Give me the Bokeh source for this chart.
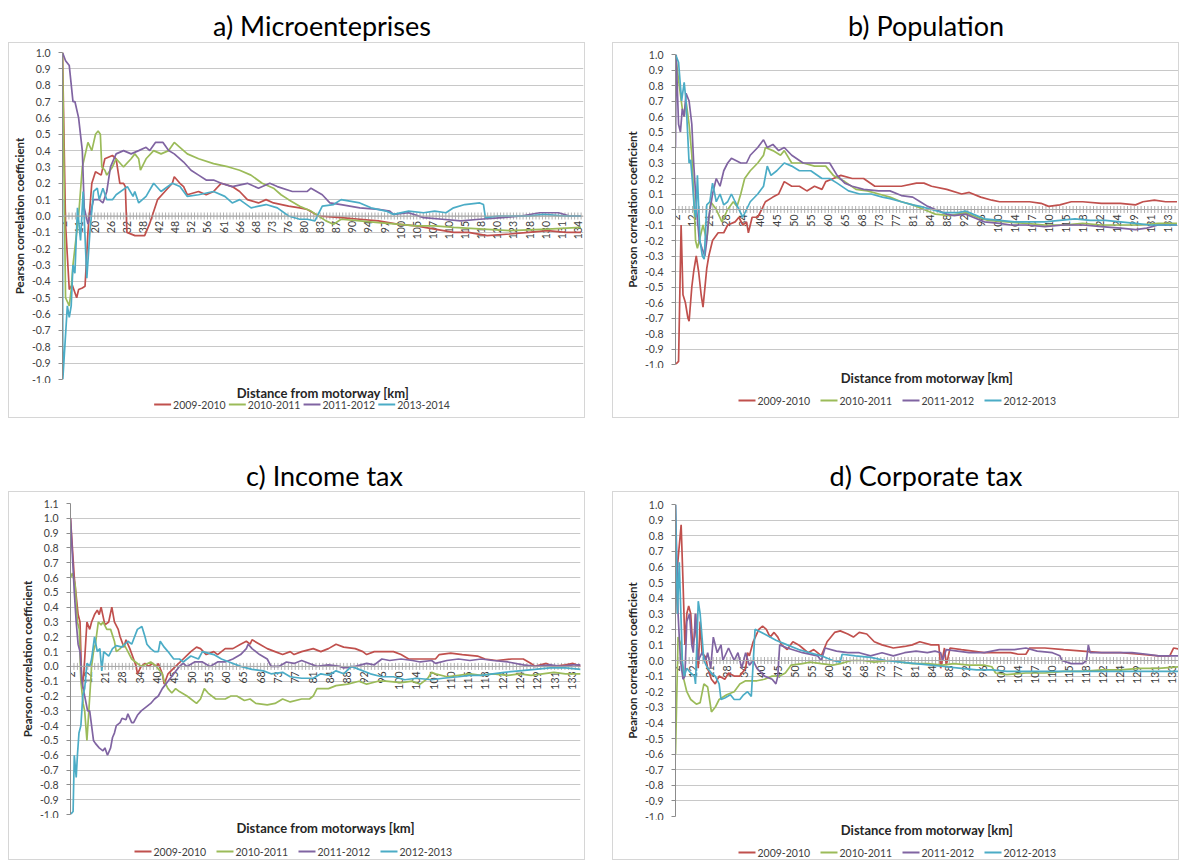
import numpy as np
from bokeh.plotting import figure
from bokeh.layouts import column, row, Spacer
from bokeh.models import FixedTicker, Range1d, PrintfTickFormatter, Span
from bokeh.core.properties import value
from bokeh.embed import file_html
from bokeh.resources import INLINE

COLORS = ["#C0504D", "#9BBB59", "#8064A2", "#4BACC6"]
FONT = "Lato"
BORDER = "1px solid #d6d6d6"

# ---------------- tick labels (distance categories, km) ----------------
a_labels = ["2", "11", "20", "26", "32", "38", "42", "48", "52", "56", "61", "66", "68",
            "73", "76", "80", "83", "87", "90", "94", "97", "100", "105", "107", "110",
            "115", "118", "120", "123", "128", "130", "131", "134"]
bcd_labels = ["2", "12", "21", "28", "34", "40", "45", "50", "55", "60", "65", "68", "73",
              "77", "81", "84", "88", "92", "96", "100", "104", "107", "110", "115", "118",
              "122", "124", "129", "131", "133"]

# ---------------- a) Microenteprises (position in label steps, r) ----------------
a_names = ["2009-2010", "2010-2011", "2011-2012", "2013-2014"]
a_0910 = [(0, 1.0), (0.19, -0.05), (0.42, -0.45), (0.6, -0.42), (0.88, -0.5), (1.0, -0.45),
          (1.23, -0.44), (1.4, -0.43), (1.58, -0.1), (1.82, 0.2), (2.05, 0.27), (2.4, 0.25),
          (2.63, 0.35), (3.1, 0.37), (3.33, 0.35), (3.56, 0.2), (3.79, 0.2), (3.9, 0.18),
          (4.0, -0.1), (4.5, -0.12), (5.1, -0.12), (5.4, -0.05), (5.9, 0.1), (6.36, 0.15),
          (6.82, 0.2), (6.94, 0.24), (7.29, 0.2), (7.52, 0.18), (7.75, 0.13), (8.45, 0.15),
          (8.92, 0.13), (9.38, 0.15), (9.85, 0.2), (10.54, 0.18), (11.0, 0.15), (11.48, 0.1),
          (12.17, 0.08), (12.64, 0.1), (13.1, 0.08), (14.04, 0.06), (14.73, 0.05), (15.2, 0.04),
          (15.9, 0.0), (17.3, -0.01), (18.46, -0.02), (19.62, -0.03), (20.79, -0.05),
          (21.95, -0.06), (23.11, -0.08), (24.28, -0.1), (25.2, -0.1), (26.37, -0.12),
          (27.77, -0.11), (28.93, -0.1), (30.1, -0.09), (31.26, -0.1), (32.19, -0.1)]
a_1011 = [(0, 1.0), (0.19, -0.5), (0.42, -0.55), (0.54, -0.45), (0.65, -0.3), (0.88, -0.1),
          (1.0, 0.0), (1.23, 0.3), (1.58, 0.45), (1.82, 0.4), (2.05, 0.5), (2.21, 0.52),
          (2.35, 0.5), (2.44, 0.3), (2.63, 0.28), (2.75, 0.25), (3.1, 0.3), (3.33, 0.35),
          (3.79, 0.3), (4.26, 0.35), (4.49, 0.38), (4.73, 0.35), (4.84, 0.28), (5.19, 0.35),
          (5.66, 0.4), (6.12, 0.38), (6.59, 0.4), (6.94, 0.45), (7.29, 0.42), (7.75, 0.38),
          (8.45, 0.35), (9.38, 0.32), (10.31, 0.3), (11.0, 0.28), (11.7, 0.25), (12.4, 0.2),
          (13.1, 0.17), (13.57, 0.13), (14.04, 0.1), (14.73, 0.06), (15.43, 0.03), (15.9, 0.0),
          (16.36, -0.03), (16.83, -0.05), (17.3, -0.02), (18.46, -0.03), (19.62, -0.04),
          (20.79, -0.05), (21.95, -0.06), (23.11, -0.06), (24.28, -0.07), (26.14, -0.08),
          (27.77, -0.09), (30.1, -0.08), (32.19, -0.07)]
a_1112 = [(0, 1.0), (0.19, 0.95), (0.42, 0.92), (0.65, 0.7), (0.77, 0.7), (1.0, 0.6),
          (1.23, 0.4), (1.35, 0.05), (1.58, -0.05), (1.93, 0.1), (2.28, 0.1), (2.51, 0.08),
          (2.75, 0.15), (2.98, 0.3), (3.33, 0.38), (3.79, 0.4), (4.26, 0.38), (4.73, 0.4),
          (5.19, 0.42), (5.42, 0.4), (5.77, 0.45), (6.24, 0.45), (6.59, 0.4), (6.94, 0.38),
          (7.52, 0.33), (7.98, 0.28), (8.45, 0.25), (8.92, 0.22), (9.38, 0.22), (9.85, 0.2),
          (10.54, 0.18), (11.48, 0.2), (12.17, 0.17), (12.87, 0.2), (13.34, 0.18),
          (14.27, 0.15), (15.2, 0.15), (15.43, 0.17), (16.13, 0.13), (16.6, 0.08),
          (17.3, 0.07), (18.46, 0.05), (19.62, 0.04), (20.32, 0.03), (20.55, 0.01),
          (21.49, 0.02), (22.42, -0.01), (23.58, -0.02), (24.74, -0.03), (25.91, -0.02),
          (27.3, -0.01), (28.47, 0.0), (29.63, 0.02), (30.8, 0.02), (31.49, 0.0), (32.19, 0.0)]
a_1314 = [(0, 0.1), (0.02, -1.0), (0.3, -0.55), (0.42, -0.62), (0.54, -0.55), (0.65, -0.3),
          (0.77, -0.35), (0.93, 0.05), (1.12, -0.15), (1.28, 0.15), (1.51, -0.38), (1.7, -0.1),
          (1.93, 0.15), (2.16, 0.17), (2.28, 0.1), (2.51, 0.17), (2.75, 0.1), (3.1, 0.1),
          (3.33, 0.13), (4.03, 0.18), (4.38, 0.12), (4.49, 0.15), (4.73, 0.08), (5.19, 0.12),
          (5.66, 0.2), (6.12, 0.15), (6.82, 0.2), (7.29, 0.18), (7.75, 0.12), (8.45, 0.13),
          (9.38, 0.15), (10.08, 0.12), (10.54, 0.08), (11.0, 0.1), (11.71, 0.05), (12.64, 0.07),
          (13.34, 0.05), (14.04, 0.0), (14.73, -0.02), (15.2, -0.02), (15.67, -0.03),
          (16.13, 0.06), (16.83, 0.07), (17.3, 0.1), (18.46, 0.08), (19.16, 0.05),
          (20.09, 0.03), (20.55, 0.01), (21.49, 0.03), (22.42, 0.02), (23.11, 0.03),
          (23.81, 0.02), (24.28, 0.05), (24.98, 0.07), (25.91, 0.08), (26.14, 0.07),
          (26.26, -0.01), (27.07, 0.0), (28.93, 0.0), (29.87, 0.01), (31.26, 0.0), (32.19, 0.0)]

# ---------------- b) Population ----------------
b_names = ["2009-2010", "2010-2011", "2011-2012", "2012-2013"]
b_0910 = [(0, -1.0), (0.18, -0.98), (0.33, -0.1), (0.44, -0.55), (0.58, -0.6), (0.73, -0.7),
          (0.8, -0.72), (0.96, -0.5), (1.07, -0.4), (1.22, -0.3), (1.36, -0.4), (1.51, -0.55),
          (1.62, -0.63), (1.84, -0.38), (1.96, -0.3), (2.18, -0.2), (2.51, -0.15), (2.84, -0.15),
          (3.07, -0.1), (3.51, -0.08), (3.73, -0.05), (3.96, -0.1), (4.18, -0.08), (4.29, -0.15),
          (4.51, -0.05), (4.84, -0.05), (5.07, 0.0), (5.29, 0.05), (5.73, 0.08), (6.07, 0.1),
          (6.4, 0.18), (6.84, 0.15), (7.29, 0.15), (7.73, 0.12), (8.18, 0.15), (8.62, 0.13),
          (8.84, 0.18), (9.29, 0.2), (9.73, 0.22), (10.4, 0.2), (11.07, 0.2), (11.73, 0.15),
          (12.62, 0.15), (13.29, 0.15), (14.18, 0.17), (14.62, 0.17), (15.07, 0.15),
          (15.96, 0.13), (16.84, 0.1), (17.29, 0.11), (17.96, 0.08), (18.62, 0.06),
          (19.07, 0.05), (19.96, 0.05), (20.84, 0.05), (21.51, 0.04), (21.96, 0.02),
          (22.62, 0.03), (23.29, 0.05), (23.96, 0.05), (25.07, 0.04), (26.18, 0.04),
          (27.07, 0.03), (27.51, 0.05), (28.18, 0.06), (28.84, 0.05), (29.51, 0.05)]
b_1011 = [(0, 1.0), (0.22, 0.8), (0.4, 0.65), (0.51, 0.6), (0.62, 0.7), (0.8, 0.55),
          (0.96, 0.35), (1.07, 0.1), (1.18, -0.2), (1.29, -0.25), (1.51, -0.15), (1.62, -0.1),
          (1.84, -0.2), (2.07, 0.05), (2.4, 0.0), (2.73, -0.08), (3.07, 0.0), (3.4, 0.05),
          (3.62, 0.02), (3.84, 0.1), (4.07, 0.2), (4.4, 0.25), (4.84, 0.3), (5.18, 0.35),
          (5.29, 0.4), (5.73, 0.38), (6.18, 0.35), (6.4, 0.38), (6.84, 0.3), (7.51, 0.3),
          (8.18, 0.28), (8.84, 0.28), (9.29, 0.22), (9.96, 0.18), (10.62, 0.13), (11.29, 0.12),
          (11.96, 0.1), (12.62, 0.08), (13.29, 0.05), (13.96, 0.03), (14.62, 0.0),
          (15.29, -0.03), (16.18, -0.04), (17.07, -0.02), (17.73, -0.05), (18.4, -0.07),
          (19.51, -0.08), (20.62, -0.09), (21.73, -0.1), (22.84, -0.1), (23.96, -0.09),
          (25.07, -0.1), (26.18, -0.1), (27.29, -0.1), (28.4, -0.09), (29.51, -0.09)]
b_1112 = [(0, 0.4), (0.04, 1.0), (0.18, 0.55), (0.29, 0.5), (0.4, 0.65), (0.51, 0.6),
          (0.62, 0.75), (0.8, 0.7), (0.96, 0.55), (1.07, 0.3), (1.24, 0.0), (1.4, -0.2),
          (1.56, -0.25), (1.73, -0.3), (1.84, -0.2), (1.96, -0.05), (2.18, 0.1), (2.4, 0.2),
          (2.62, 0.15), (2.84, 0.25), (3.07, 0.3), (3.29, 0.33), (3.84, 0.3), (4.18, 0.3),
          (4.4, 0.35), (4.84, 0.4), (5.18, 0.45), (5.4, 0.4), (5.73, 0.42), (6.07, 0.38),
          (6.4, 0.4), (6.84, 0.35), (7.51, 0.3), (8.4, 0.3), (9.07, 0.3), (9.51, 0.22),
          (9.96, 0.17), (10.4, 0.15), (11.07, 0.13), (11.96, 0.12), (12.62, 0.12),
          (13.29, 0.09), (13.96, 0.08), (14.4, 0.05), (14.84, 0.02), (15.29, 0.0),
          (15.96, -0.03), (16.4, -0.04), (17.07, -0.03), (17.51, -0.05), (18.18, -0.08),
          (19.07, -0.09), (19.73, -0.1), (20.62, -0.1), (21.73, -0.11), (22.84, -0.1),
          (23.96, -0.1), (25.07, -0.11), (26.18, -0.12), (27.07, -0.13), (27.73, -0.12),
          (28.4, -0.1), (29.51, -0.1)]
b_1213 = [(0, 1.0), (0.18, 0.95), (0.36, 0.7), (0.51, 0.82), (0.62, 0.7), (0.8, 0.3),
          (0.89, 0.32), (0.98, 0.2), (1.11, 0.0), (1.2, -0.05), (1.29, 0.22), (1.44, -0.2),
          (1.58, -0.3), (1.69, -0.32), (1.84, 0.03), (2.02, 0.05), (2.18, 0.17), (2.4, 0.05),
          (2.62, 0.1), (2.84, 0.03), (3.07, 0.05), (3.29, 0.1), (3.51, 0.05), (3.96, -0.05),
          (4.18, 0.0), (4.4, 0.05), (4.84, 0.1), (5.18, 0.15), (5.4, 0.28), (5.62, 0.22),
          (5.96, 0.25), (6.4, 0.3), (6.84, 0.28), (7.29, 0.25), (7.96, 0.25), (8.62, 0.2),
          (9.07, 0.2), (9.51, 0.17), (10.18, 0.12), (10.84, 0.1), (11.51, 0.1), (12.18, 0.08),
          (12.62, 0.07), (13.29, 0.05), (13.96, 0.03), (14.4, 0.02), (15.07, 0.0),
          (15.73, -0.02), (16.62, -0.02), (17.07, -0.01), (17.51, -0.03), (18.18, -0.06),
          (19.07, -0.07), (19.96, -0.08), (20.84, -0.08), (21.73, -0.08), (22.62, -0.07),
          (23.51, -0.06), (24.4, -0.07), (25.29, -0.07), (26.18, -0.08), (27.07, -0.09),
          (27.96, -0.1), (29.51, -0.1)]

# ---------------- c) Income tax ----------------
c_names = ["2009-2010", "2010-2011", "2011-2012", "2012-2013"]
c_0910 = [(0, 1.0), (0.22, 0.6), (0.44, 0.35), (0.55, 0.3), (0.66, -0.15), (0.77, -0.05),
          (0.95, 0.3), (1.11, 0.25), (1.22, 0.3), (1.39, 0.35), (1.55, 0.38), (1.66, 0.35),
          (1.77, 0.4), (1.99, 0.28), (2.21, 0.3), (2.39, 0.4), (2.54, 0.3), (2.76, 0.25),
          (2.87, 0.2), (3.09, 0.13), (3.21, 0.18), (3.43, 0.12), (3.65, 0.05), (3.8, 0.0),
          (3.87, -0.05), (4.09, 0.0), (4.31, 0.02), (4.53, 0.0), (4.75, 0.02), (4.97, 0.0),
          (5.08, 0.02), (5.31, -0.05), (5.42, -0.12), (5.64, -0.05), (6.08, 0.0), (6.52, 0.05),
          (6.96, 0.1), (7.29, 0.13), (7.52, 0.12), (7.85, 0.08), (8.29, 0.1), (8.51, 0.08),
          (8.95, 0.12), (9.39, 0.12), (9.84, 0.15), (10.17, 0.17), (10.39, 0.15), (10.5, 0.18),
          (10.94, 0.15), (11.38, 0.12), (11.83, 0.1), (12.27, 0.08), (12.71, 0.1), (12.93, 0.08),
          (13.37, 0.1), (14.04, 0.12), (14.48, 0.1), (14.92, 0.12), (15.36, 0.15), (15.8, 0.13),
          (16.47, 0.12), (16.91, 0.1), (17.13, 0.08), (17.57, 0.1), (18.01, 0.1), (18.68, 0.1),
          (19.12, 0.08), (19.56, 0.05), (20.23, 0.05), (21.11, 0.05), (21.33, 0.08),
          (21.99, 0.09), (22.66, 0.08), (23.54, 0.07), (23.98, 0.05), (24.65, 0.04),
          (25.53, 0.05), (26.19, 0.05), (26.64, 0.02), (26.86, 0.0), (27.52, 0.02),
          (27.96, 0.0), (28.63, 0.01), (29.07, 0.02), (29.51, 0.0)]
c_1011 = [(0, 0.6), (0.11, 0.63), (0.27, 0.55), (0.4, 0.3), (0.51, 0.25), (0.6, -0.1),
          (0.73, -0.25), (0.82, -0.3), (0.95, -0.5), (1.06, -0.3), (1.22, 0.0), (1.33, 0.1),
          (1.44, 0.15), (1.61, 0.3), (1.77, 0.28), (1.88, 0.3), (2.1, 0.25), (2.32, 0.25),
          (2.54, 0.17), (2.65, 0.1), (2.87, 0.12), (3.09, 0.15), (3.32, 0.1), (3.54, 0.05),
          (3.76, 0.03), (4.09, 0.0), (4.64, 0.03), (4.97, 0.0), (5.31, -0.05), (5.42, -0.1),
          (5.64, -0.15), (5.86, -0.18), (6.08, -0.15), (6.3, -0.17), (6.74, -0.2), (7.29, -0.25),
          (7.52, -0.22), (7.74, -0.15), (7.96, -0.18), (8.4, -0.22), (8.95, -0.22), (9.28, -0.2),
          (9.62, -0.2), (10.06, -0.23), (10.39, -0.22), (10.72, -0.25), (11.38, -0.26),
          (11.83, -0.25), (12.27, -0.22), (12.71, -0.24), (13.37, -0.22), (13.82, -0.22),
          (14.04, -0.2), (14.26, -0.15), (14.92, -0.15), (15.36, -0.13), (16.03, -0.12),
          (16.69, -0.1), (17.13, -0.12), (17.79, -0.1), (18.24, -0.1), (19.12, -0.11),
          (19.78, -0.1), (20.23, -0.12), (20.67, -0.08), (20.89, -0.04), (21.11, -0.05),
          (21.77, -0.07), (22.44, -0.06), (23.1, -0.05), (23.76, -0.06), (24.43, -0.05),
          (25.31, -0.06), (25.97, -0.05), (26.64, -0.06), (27.3, -0.05), (27.96, -0.04),
          (28.63, -0.05), (29.51, -0.05)]
c_1112 = [(0, 1.0), (0.22, 0.5), (0.33, 0.3), (0.44, 0.15), (0.55, 0.1), (0.66, -0.1),
          (0.82, -0.2), (0.99, -0.3), (1.11, -0.3), (1.33, -0.5), (1.44, -0.52), (1.66, -0.55),
          (1.88, -0.57), (1.99, -0.55), (2.14, -0.6), (2.32, -0.55), (2.43, -0.48), (2.54, -0.45),
          (2.65, -0.4), (2.87, -0.38), (2.98, -0.35), (3.21, -0.36), (3.32, -0.32), (3.54, -0.38),
          (3.65, -0.38), (3.87, -0.33), (4.09, -0.3), (4.31, -0.28), (4.64, -0.25),
          (4.86, -0.22), (5.08, -0.2), (5.31, -0.15), (5.64, -0.1), (5.97, -0.05), (6.3, 0.0),
          (6.52, 0.02), (6.74, 0.0), (7.18, 0.03), (7.63, 0.03), (8.07, 0.0), (8.51, 0.03),
          (8.95, 0.03), (9.39, 0.05), (9.84, 0.08), (10.17, 0.12), (10.28, 0.15), (10.5, 0.12),
          (10.94, 0.08), (11.38, 0.05), (11.6, 0.0), (12.05, 0.0), (12.49, 0.03), (12.93, 0.02),
          (13.37, 0.04), (13.82, 0.02), (14.26, 0.0), (14.92, 0.01), (15.58, 0.0), (15.8, -0.01),
          (16.47, 0.0), (17.13, 0.02), (17.57, 0.01), (18.01, 0.05), (18.46, 0.04),
          (19.12, 0.05), (19.78, 0.04), (20.23, 0.03), (20.89, 0.04), (21.11, 0.02),
          (21.77, 0.04), (22.44, 0.05), (23.1, 0.04), (23.76, 0.05), (24.43, 0.04),
          (25.31, 0.03), (26.19, 0.01), (26.86, 0.0), (27.74, 0.01), (28.4, 0.0), (29.07, 0.01),
          (29.51, 0.01)]
c_1213 = [(0, -1.0), (0.15, -0.98), (0.22, -0.6), (0.33, -0.75), (0.4, -0.6), (0.49, -0.45),
          (0.6, -0.4), (0.71, -0.2), (0.82, -0.15), (0.95, 0.02), (1.11, 0.0), (1.22, 0.05),
          (1.39, 0.2), (1.55, 0.1), (1.7, 0.12), (1.81, -0.03), (1.92, 0.1), (2.21, 0.07),
          (2.43, 0.12), (2.65, 0.14), (2.98, 0.13), (3.32, 0.17), (3.54, 0.15), (3.87, 0.25),
          (4.13, 0.27), (4.31, 0.2), (4.42, 0.15), (4.64, 0.12), (4.86, 0.1), (5.08, 0.1),
          (5.19, 0.17), (5.42, 0.13), (5.64, 0.1), (5.97, 0.05), (6.3, 0.05), (6.52, 0.03),
          (6.96, 0.07), (7.4, 0.05), (7.63, 0.1), (8.29, 0.08), (8.73, 0.05), (9.17, 0.03),
          (9.84, 0.0), (10.5, -0.02), (11.16, -0.03), (11.6, -0.05), (12.27, -0.04),
          (12.71, -0.07), (13.37, -0.08), (14.04, -0.08), (14.48, -0.05), (14.92, -0.06),
          (15.36, -0.03), (15.8, -0.05), (16.25, 0.0), (16.69, -0.02), (17.35, -0.05),
          (18.01, -0.07), (18.68, -0.07), (19.34, -0.09), (20.0, -0.08), (20.89, -0.09),
          (21.55, -0.08), (22.44, -0.07), (23.1, -0.06), (23.76, -0.06), (24.43, -0.05),
          (25.09, -0.04), (25.97, -0.03), (26.86, -0.02), (27.74, -0.01), (28.63, -0.01),
          (29.51, -0.02)]

# ---------------- d) Corporate tax ----------------
d_names = ["2009-2010", "2010-2011", "2011-2012", "2012-2013"]
d_0910 = [(0, 0.3), (0.11, 0.6), (0.33, 0.87), (0.44, 0.5), (0.55, 0.1), (0.66, 0.3),
          (0.77, 0.35), (0.89, 0.3), (1.0, 0.1), (1.11, 0.15), (1.17, 0.3), (1.26, 0.1),
          (1.33, -0.05), (1.44, 0.25), (1.55, 0.05), (1.77, 0.02), (1.88, -0.05), (2.1, -0.12),
          (2.32, -0.15), (2.55, -0.1), (2.88, -0.12), (3.1, -0.08), (3.43, -0.1), (3.76, -0.1),
          (4.1, -0.05), (4.21, 0.05), (4.32, 0.03), (4.54, 0.12), (4.87, 0.2), (5.09, 0.22),
          (5.31, 0.2), (5.53, 0.15), (5.76, 0.18), (5.98, 0.15), (6.2, 0.1), (6.53, 0.07),
          (6.86, 0.12), (7.2, 0.1), (7.42, 0.08), (7.75, 0.05), (8.08, 0.07), (8.3, 0.05),
          (8.52, 0.03), (8.86, 0.12), (9.3, 0.18), (9.63, 0.19), (10.07, 0.17), (10.4, 0.15),
          (10.74, 0.18), (11.18, 0.17), (11.62, 0.12), (12.07, 0.1), (12.73, 0.08),
          (13.39, 0.09), (13.84, 0.1), (14.28, 0.12), (14.94, 0.1), (15.39, 0.1), (15.5, -0.05),
          (15.72, 0.08), (15.83, -0.03), (16.05, 0.08), (16.71, 0.07), (17.38, 0.06),
          (18.04, 0.05), (18.93, 0.05), (19.59, 0.05), (20.04, 0.04), (20.48, 0.04),
          (20.7, 0.08), (21.59, 0.08), (22.69, 0.07), (23.8, 0.06), (24.91, 0.05),
          (26.01, 0.05), (27.12, 0.04), (28.23, 0.03), (28.89, 0.03), (29.11, 0.08),
          (29.56, 0.07)]
d_1011 = [(0, -0.6), (0.15, 0.15), (0.33, 0.1), (0.44, -0.1), (0.66, -0.2), (0.89, -0.25),
          (1.22, -0.28), (1.44, -0.27), (1.66, -0.15), (1.88, -0.17), (1.99, -0.25),
          (2.1, -0.33), (2.32, -0.3), (2.55, -0.25), (2.99, -0.22), (3.43, -0.2), (3.76, -0.15),
          (4.1, -0.13), (4.76, -0.13), (5.2, -0.12), (5.65, -0.1), (6.09, -0.1), (6.42, -0.08),
          (6.75, -0.03), (7.42, -0.02), (7.86, -0.01), (8.52, -0.02), (9.19, -0.03),
          (9.63, -0.02), (10.29, 0.0), (10.96, 0.0), (11.62, -0.01), (12.51, 0.0),
          (13.17, -0.01), (13.84, -0.02), (14.72, -0.02), (15.61, -0.03), (16.27, -0.02),
          (17.16, -0.03), (18.04, -0.03), (18.49, -0.04), (18.71, -0.08), (19.37, -0.09),
          (20.48, -0.08), (21.59, -0.08), (22.69, -0.07), (23.8, -0.07), (24.91, -0.06),
          (26.01, -0.06), (27.12, -0.05), (28.23, -0.05), (29.56, -0.04)]
d_1112 = [(0, 1.0), (0.15, 0.3), (0.29, 0.0), (0.44, -0.12), (0.55, -0.1), (0.66, 0.25),
          (0.82, 0.3), (0.95, 0.1), (1.04, 0.05), (1.17, 0.3), (1.33, 0.0), (1.55, 0.05),
          (1.77, 0.0), (1.88, 0.05), (2.06, -0.05), (2.21, 0.15), (2.44, 0.05), (2.66, 0.1),
          (2.77, 0.0), (3.1, 0.08), (3.43, 0.0), (3.65, 0.05), (3.87, -0.05), (4.1, 0.05),
          (4.32, -0.03), (4.54, 0.0), (4.76, -0.05), (5.2, -0.1), (5.65, -0.12), (5.87, -0.15),
          (5.98, -0.1), (6.09, 0.1), (6.53, 0.08), (7.42, 0.05), (8.3, 0.03), (8.52, 0.0),
          (8.74, 0.08), (9.41, 0.06), (10.07, 0.05), (10.74, 0.05), (11.4, 0.03), (12.07, 0.05),
          (12.73, 0.03), (13.39, 0.05), (14.06, 0.06), (14.72, 0.05), (15.17, 0.06),
          (15.5, 0.05), (15.61, 0.0), (15.83, 0.07), (16.49, 0.06), (17.16, 0.05), (18.04, 0.05),
          (18.93, 0.07), (19.81, 0.07), (20.48, 0.08), (21.14, 0.06), (22.03, 0.05),
          (22.47, 0.03), (22.58, 0.0), (23.13, -0.02), (23.8, -0.02), (24.02, 0.0),
          (24.13, 0.1), (24.24, 0.05), (24.91, 0.05), (26.01, 0.05), (26.68, 0.05),
          (27.56, 0.04), (28.23, 0.03), (29.56, 0.03)]
d_1213 = [(0, 1.0), (0.11, 0.3), (0.22, 0.63), (0.4, 0.0), (0.51, -0.1), (0.66, -0.05),
          (0.89, -0.08), (1.11, -0.1), (1.17, -0.15), (1.33, 0.38), (1.44, 0.3), (1.66, 0.0),
          (1.88, -0.05), (2.1, -0.08), (2.32, -0.1), (2.55, -0.15), (2.66, -0.25),
          (2.88, -0.24), (3.21, -0.22), (3.43, -0.25), (3.76, -0.25), (3.98, -0.22),
          (4.21, -0.2), (4.43, -0.23), (4.65, 0.2), (5.2, 0.17), (5.87, 0.13), (6.53, 0.1),
          (7.2, 0.07), (7.86, 0.05), (8.52, 0.03), (9.19, 0.0), (9.63, -0.01), (9.74, 0.04),
          (10.52, 0.03), (11.4, 0.02), (12.29, 0.0), (13.17, -0.01), (14.06, -0.02),
          (14.94, -0.03), (15.83, -0.04), (16.71, -0.05), (17.6, -0.06), (18.49, -0.06),
          (19.37, -0.07), (20.48, -0.07), (21.59, -0.07), (22.91, -0.07), (24.24, -0.07),
          (26.01, -0.07), (27.78, -0.07), (29.56, -0.07)]


def blank(width, height, bl, br):
    """Canvas whose frame lines up with the chart frame below it (x in frame pixels,
    y in pixels growing downward)."""
    fw = width - bl - br
    t = figure(width=width, height=height, x_range=Range1d(0, fw),
               y_range=Range1d(height, 0), toolbar_location=None, tools="",
               output_backend="svg", min_border_left=bl, min_border_right=br,
               min_border_top=0, min_border_bottom=0, x_axis_type=None, y_axis_type=None)
    t.grid.visible = False
    t.outline_line_color = None
    return t, fw


def title_fig(txt, width, height, bl, br):
    t, fw = blank(width, height, bl, br)
    t.text(x=[fw / 2], y=[height / 2], text=[txt], text_align="center", text_baseline="middle",
           text_font=value(FONT), text_font_size="27px", text_color="#000000")
    return t


def footer_fig(xlabel, names, width, height, bl, br, y_leg, leg_x0, pitch):
    f, fw = blank(width, height, bl, br)
    f.styles = {"border-left": BORDER, "border-right": BORDER, "border-bottom": BORDER,
                "box-sizing": "border-box"}
    f.text(x=[fw / 2], y=[1], text=[xlabel], text_align="center", text_baseline="top",
           text_font=value(FONT), text_font_style="bold", text_font_size="13px",
           text_color="#262626")
    x0 = [leg_x0 - bl + k * pitch for k in range(len(names))]
    f.segment(x0=x0, y0=[y_leg] * len(names), x1=[v + 17 for v in x0], y1=[y_leg] * len(names),
              line_color=COLORS[:len(names)], line_width=2)
    f.text(x=[v + 19 for v in x0], y=[y_leg] * len(names), text=names, text_align="left",
           text_baseline="middle", text_font=value(FONT), text_font_size="10.5px",
           text_color="#404040")
    return f


def chart(labels, series, width, height, bl, br, bt, bb, ymin, ymax, xend):
    p = figure(width=width, height=height, x_range=Range1d(0, xend),
               y_range=Range1d(ymin, ymax), toolbar_location=None, tools="",
               output_backend="svg", x_axis_location=None,
               min_border_left=bl, min_border_right=br,
               min_border_top=bt, min_border_bottom=bb)
    p.outline_line_color = None
    p.styles = {"border-left": BORDER, "border-right": BORDER, "border-top": BORDER,
                "box-sizing": "border-box"}
    yt = [round(k / 10, 1) for k in range(int(round(ymin * 10)), int(round(ymax * 10)) + 1)]
    p.yaxis.ticker = FixedTicker(ticks=yt)
    p.yaxis.formatter = PrintfTickFormatter(format="%.1f")
    p.yaxis.minor_tick_line_color = None
    p.yaxis.major_tick_out = 4
    p.yaxis.major_tick_in = 0
    p.yaxis.major_label_standoff = 8
    p.yaxis.axis_line_color = "#8c8c8c"
    p.yaxis.major_tick_line_color = "#8c8c8c"
    p.yaxis.major_label_text_font = FONT
    p.yaxis.major_label_text_font_size = "10.5px"
    p.yaxis.major_label_text_color = "#404040"
    p.yaxis.axis_label = "Pearson correlation coefficient"
    p.yaxis.axis_label_text_font = FONT
    p.yaxis.axis_label_text_font_style = "bold"
    p.yaxis.axis_label_text_font_size = "11.5px"
    p.yaxis.axis_label_text_color = "#262626"
    p.yaxis.axis_label_standoff = 3
    p.ygrid.ticker = FixedTicker(ticks=yt)
    p.ygrid.grid_line_color = "#c8c8c8"
    p.ygrid.grid_line_width = 1
    p.xgrid.visible = False

    # category axis drawn at r = 0: line, dense tick marks, rotated labels
    p.add_layout(Span(location=0, dimension="width", line_color="#a6a6a6", line_width=1))
    minor = [float(v) for v in np.arange(0, xend, 0.2)]
    p.scatter(x=minor, y=[0.0] * len(minor), marker="dash", angle=np.pi / 2, size=7,
              line_color="#b0b0b0", line_width=1)
    pos = list(range(len(labels)))
    p.text(x=pos, y=[0.0] * len(pos), text=labels, angle=np.pi / 2, text_align="right",
           text_baseline="middle", y_offset=5, text_font=value(FONT),
           text_font_size="10.5px", text_color="#404040")

    for pts, col in zip(series, COLORS):
        p.line([q[0] for q in pts], [q[1] for q in pts], line_color=col, line_width=1.7)
    return p


WL, WR = 577, 567
# panel a
ta = title_fig("a) Microenteprises", WL, 34, 51, 3)
pa = chart(a_labels, [a_0910, a_1011, a_1112, a_1314], WL, 341, 51, 3, 9, 5, -1.0, 1.0, 32.35)
fa = footer_fig("Distance from motorway [km]", a_names, WL, 35, 51, 3, 21, 143, 75)
# panel b
tb = title_fig("b) Population", WR, 34, 62, 2)
pb = chart(bcd_labels, [b_0910, b_1011, b_1112, b_1213], WR, 326, 62, 2, 11, 5, -1.0, 1.0, 29.6)
fb = footer_fig("Distance from motorway [km]", b_names, WR, 50, 62, 2, 32, 125, 82)
# panel c
tc = title_fig("c) Income tax", WL, 33, 61, 6)
pc = chart(bcd_labels, [c_0910, c_1011, c_1112, c_1213], WL, 327, 61, 6, 11, 5, -1.0, 1.1, 29.5)
fc = footer_fig("Distance from motorways [km]", c_names, WL, 42, 61, 6, 33, 125, 82)
# panel d
td = title_fig("d) Corporate tax", WR, 33, 62, 2)
pd_ = chart(bcd_labels, [d_0910, d_1011, d_1112, d_1213], WR, 329, 62, 2, 12, 5, -1.0, 1.0, 29.4)
fd = footer_fig("Distance from motorway [km]", d_names, WR, 40, 62, 2, 32, 125, 82)

layout = column(
    Spacer(height=8),
    row(Spacer(width=8), column(ta, pa, fa), Spacer(width=27), column(tb, pb, fb)),
    Spacer(height=40),
    row(Spacer(width=8), column(tc, pc, fc), Spacer(width=27), column(td, pd_, fd)),
)

open("out.html", "w").write(file_html(layout, INLINE))
